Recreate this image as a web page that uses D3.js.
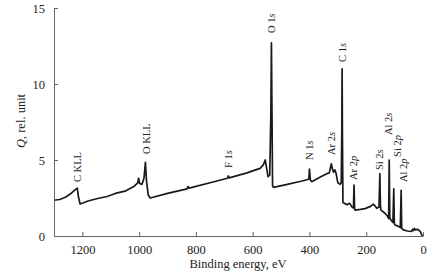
<!DOCTYPE html>
<html><head><meta charset="utf-8">
<script src="https://cdn.jsdelivr.net/npm/d3@7"></script>
<style>
html,body{margin:0;padding:0;background:#fff;}
svg{display:block;font-family:"Liberation Serif","Times New Roman",serif;}
</style></head>
<body><svg id="c" width="435" height="272"></svg>
<script>
const energy = [1300,1280,1260,1240,1225,1218,1214,1208,1180,1150,1113,1084,1050,1019,1005,1002,998,990,983,978,974,968,961,900,831,828,824,750,689,686,683,620,574,562,556,552,546,540,536,534,532,530,527,486,430,409,402,400,397,392,360,339,330,323,319,315,310,306,300,292,288,286,285,284,282,277,268,258,250,245,243,241,239,220,204,185,175,168,163,155,152,150,148,134,125,121,119,117,113,106,103,101,98,88,80,77,75,69,55,40,36,33,30,26,20,16,10,5,2];
const intensity = [2.35,2.4,2.55,2.8,3.05,3.15,2.6,2.1,2.3,2.45,2.6,2.8,2.95,3.25,3.5,3.8,3.45,3.4,3.8,4.85,3.6,2.7,2.5,2.8,3.1,3.25,3.15,3.5,3.8,3.95,3.82,4.15,4.45,4.7,5.0,4.6,3.9,4.0,8.0,12.7,8.0,3.3,3.2,3.36,3.6,3.7,3.75,4.4,3.7,3.57,3.9,4.1,4.15,4.75,4.4,4.2,4.35,4.1,3.5,3.4,3.5,7.0,11.0,7.0,2.2,2.15,2.05,2.15,1.9,1.85,3.35,1.8,1.7,1.75,1.8,1.95,2.1,1.95,1.82,1.9,4.1,2.0,1.7,1.5,1.3,1.15,5.0,1.2,1.05,0.9,3.1,0.8,0.72,0.65,0.55,3.0,0.5,0.4,0.33,0.3,0.45,0.35,0.5,0.4,0.45,0.4,0.3,0.1,0.0];
const xTicks = [1200,1000,800,600,400,200,0];
const yTicks = [0,5,10,15];
const peakNames = ["C KLL","O KLL","F 1s","O 1s","N 1s","Ar 2s","C 1s","Ar 2p","Si 2s","Al 2s","Si 2p","Al 2p"];
const peakEnergy = [1218,975,686,535,401,324,285,246,155,123,91,70];
const peakLabelBase = [3.55,5.4,4.47,13.36,5.0,5.33,11.45,3.68,4.34,6.64,5.2,3.55];

const svg = d3.select("#c");
const x = d3.scaleLinear().domain([1300,0]).range([54,423]);
const y = d3.scaleLinear().domain([0,15]).range([236,8]);
const axisColor = "#666";

// spectrum
const pts = energy.map((e,i)=>[e,intensity[i]]);
svg.append("path").datum(pts)
  .attr("fill","none").attr("stroke","#1a1a1a").attr("stroke-width",1.7)
  .attr("stroke-linejoin","round")
  .attr("d", d3.line().x(d=>x(d[0])).y(d=>y(d[1])));

// axes
const xa = svg.append("g").attr("transform","translate(0,236)")
  .call(d3.axisBottom(x).tickValues(xTicks).tickFormat(d3.format("d")).tickSizeInner(-4).tickSizeOuter(0).tickPadding(9));
const ya = svg.append("g").attr("transform","translate(54,0)")
  .call(d3.axisLeft(y).tickValues(yTicks).tickFormat(d3.format("d")).tickSizeInner(-4).tickSizeOuter(0).tickPadding(9));
[xa,ya].forEach(g=>{
  g.attr("font-family","Liberation Serif");
  g.select(".domain").attr("stroke",axisColor).attr("stroke-width",1);
  g.selectAll(".tick line").attr("stroke",axisColor);
  g.selectAll(".tick text").attr("fill","#222").attr("font-size",12.5)
    .attr("font-family","Liberation Serif");
});

// axis titles
svg.append("text").attr("x",238).attr("y",268).attr("text-anchor","middle")
  .attr("font-size",12.5).attr("fill","#222").text("Binding energy, eV");
const yt = svg.append("text").attr("transform","translate(25,121) rotate(-90)")
  .attr("text-anchor","middle").attr("font-size",12.5).attr("fill","#222");
yt.append("tspan").attr("font-style","italic").text("Q");
yt.append("tspan").text(", rel. unit");

// peak labels
peakNames.forEach((n,i)=>{
  const t = svg.append("text")
    .attr("transform",`translate(${x(peakEnergy[i])},${y(peakLabelBase[i])}) rotate(-90)`)
    .attr("dy","0.35em").attr("font-size",10.5).attr("fill","#222");
  const m = n.match(/^(.*\d)([sp])$/);
  if(m){ t.append("tspan").text(m[1]); t.append("tspan").attr("font-style","italic").text(m[2]); }
  else t.text(n);
});
</script></body></html>
